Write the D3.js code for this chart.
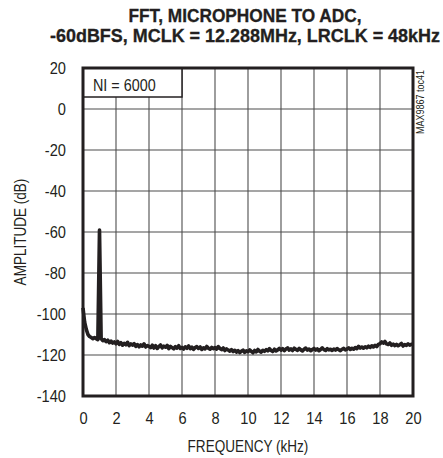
<!DOCTYPE html>
<html>
<head>
<meta charset="utf-8">
<script src="https://cdn.jsdelivr.net/npm/d3@7"></script>
<style>
  body { margin: 0; background: #fff; }
  svg { display: block; }
  text { fill: #231f20; font-family: "Liberation Sans", Arial, sans-serif; }
</style>
</head>
<body>
<svg width="443" height="458"></svg>
<script>
const width = 443, height = 458;
const svg = d3.select("svg");

// Chart data
const titleLines = ["FFT, MICROPHONE TO ADC,", "-60dBFS, MCLK = 12.288MHz, LRCLK = 48kHz"];
const xTicks = [0, 2, 4, 6, 8, 10, 12, 14, 16, 18, 20];
const yTicks = [20, 0, -20, -40, -60, -80, -100, -120, -140];
const binWidth = 0.1; // kHz between FFT points
// amplitude in dB, one value per 0.1kHz from 0 to 20kHz
const amplitude = [
    -97, -104, -107.5, -110, -111, -111.5, -112, -111.5, -112, -112.5,
    -59, -112, -113, -112.5, -113.5, -112.8, -114, -113.2, -114.2, -113.6,
    -114.5, -113.4, -114.8, -114, -115.2, -114.3, -115, -113.8, -115.4, -114.6,
    -115.2, -114.5, -115.8, -114.9, -116, -115.1, -115.7, -114.6, -116.1, -115.4,
    -115.8, -116.4, -115.2, -116.6, -115.5, -116.8, -115.9, -115.1, -116.5, -115.7,
    -116.2, -115.3, -116.9, -115.8, -116.4, -117, -115.9, -116.6, -115.5, -116.8,
    -116.3, -117.1, -116, -116.7, -115.6, -116.9, -116.2, -117.2, -116.4, -115.9,
    -116.8, -116.1, -117.3, -116.5, -117, -115.8, -116.7, -117.2, -116.3, -116.9,
    -116.4, -117.1, -115.9, -116.8, -117.4, -116.6, -117.8, -117, -117.6, -118.1,
    -117.4, -118.3, -117.7, -118.6, -117.9, -118.8, -118.2, -117.6, -118.7, -118,
    -118.4, -117.5, -118.2, -118.9, -117.8, -118.5, -117.3, -118.1, -118.6, -117.7,
    -118.2, -117.4, -118, -116.9, -117.8, -118.3, -117.2, -118, -117.5, -116.8,
    -117.6, -116.9, -117.9, -117.1, -116.5, -117.6, -117, -117.8, -116.7, -117.3,
    -117.7, -116.8, -117.5, -118, -117.2, -116.6, -117.6, -117.1, -117.9, -117.3,
    -116.8, -117.6, -117, -117.9, -117.3, -116.5, -117.4, -117.8, -116.9, -117.5,
    -117.2, -117.8, -117.1, -117.6, -116.9, -117.4, -117.9, -117.2, -116.8, -117.5,
    -117.1, -116.5, -117.3, -116.7, -117.2, -116.4, -116.9, -115.8, -116.6, -116.1,
    -116.7, -116, -116.5, -115.7, -116.3, -115.5, -116.1, -115.3, -115.9, -114.8,
    -114.5, -113.6, -114.2, -113.4, -114.6, -114.9, -114.1, -115.3, -114.7, -115.4,
    -114.8, -115.5, -115, -114.4, -115.6, -114.9, -115.3, -114.6, -115.2, -114.8,
    -115
];
const noteLabel = "NI = 6000";
const sideLabel = "MAX9867 toc41";

const plot = { left: 83, right: 413, top: 68, bottom: 396 };
const ink = "#231f20";

const xScale = d3.scaleLinear().domain([0, 20]).range([plot.left, plot.right]);
const yScale = d3.scaleLinear().domain([-140, 20]).range([plot.bottom, plot.top]);

// Squeeze text horizontally to mimic the condensed face of the original
function condense(sel, factor) {
    sel.each(function () {
        const w = this.getComputedTextLength();
        d3.select(this).attr("textLength", w * factor).attr("lengthAdjust", "spacingAndGlyphs");
    });
}

// Title: heavy condensed face in the original, fitted to its widths
const titleWidths = [233, 390];
svg.append("g").selectAll("text")
    .data(titleLines)
    .enter().append("text")
    .attr("x", 245)
    .attr("y", (d, i) => 22 + i * 20)
    .attr("text-anchor", "middle")
    .attr("textLength", (d, i) => titleWidths[i])
    .attr("lengthAdjust", "spacingAndGlyphs")
    .style("font-size", "18px").style("font-weight", "bold")
    .style("stroke", ink).style("stroke-width", 0.3)
    .text(d => d);

// Grid lines
const grid = svg.append("g").attr("stroke", "#4d4d4d").attr("stroke-width", 1.1);
grid.selectAll(".vgrid")
    .data(xTicks.slice(1, -1))
    .enter().append("line")
    .attr("x1", d => xScale(d)).attr("x2", d => xScale(d))
    .attr("y1", plot.top).attr("y2", plot.bottom);
grid.selectAll(".hgrid")
    .data(yTicks.slice(1, -1))
    .enter().append("line")
    .attr("x1", plot.left).attr("x2", plot.right)
    .attr("y1", d => yScale(d)).attr("y2", d => yScale(d));

// NI box
svg.append("rect")
    .attr("x", plot.left).attr("y", plot.top)
    .attr("width", 99).attr("height", 29)
    .attr("fill", "#fff").attr("stroke", ink).attr("stroke-width", 1.5);
svg.append("text")
    .attr("x", 93).attr("y", 91)
    .style("font-size", "16.5px")
    .text(noteLabel)
    .call(condense, 0.87);

// FFT trace
const line = d3.line()
    .x((d, i) => xScale(i * binWidth))
    .y(d => yScale(d));
svg.append("path")
    .datum(amplitude)
    .attr("d", line)
    .attr("fill", "none")
    .attr("stroke", ink)
    .attr("stroke-width", 3.6)
    .attr("stroke-linejoin", "round");

// Plot border
svg.append("rect")
    .attr("x", plot.left).attr("y", plot.top)
    .attr("width", plot.right - plot.left).attr("height", plot.bottom - plot.top)
    .attr("fill", "none").attr("stroke", ink).attr("stroke-width", 3);

// Axes (labels only, no tick marks)
const xAxis = svg.append("g")
    .attr("transform", `translate(0,${plot.bottom})`)
    .call(d3.axisBottom(xScale).tickValues(xTicks).tickFormat(d => String(d)).tickSize(0).tickPadding(16));
xAxis.select(".domain").remove();
xAxis.selectAll(".tick text")
    .attr("fill", ink).attr("font-family", null).attr("font-size", null)
    .style("font-size", "17px")
    .call(condense, 0.86);

const yAxis = svg.append("g")
    .attr("transform", `translate(${plot.left},0)`)
    .call(d3.axisLeft(yScale).tickValues(yTicks).tickFormat(d => String(d)).tickSize(0).tickPadding(17));
yAxis.select(".domain").remove();
yAxis.selectAll(".tick text")
    .attr("fill", ink).attr("font-family", null).attr("font-size", null)
    .style("font-size", "17px")
    .call(condense, 0.86);

// Axis titles
svg.append("text")
    .attr("x", (plot.left + plot.right) / 2)
    .attr("y", 452)
    .attr("text-anchor", "middle")
    .style("font-size", "16.5px")
    .text("FREQUENCY (kHz)")
    .call(condense, 0.82);

svg.append("text")
    .attr("transform", `translate(26,${(plot.top + plot.bottom) / 2}) rotate(-90)`)
    .attr("text-anchor", "middle")
    .style("font-size", "16.5px")
    .text("AMPLITUDE (dB)")
    .call(condense, 0.82);

// Side annotation
svg.append("text")
    .attr("transform", "translate(424,102) rotate(-90)")
    .attr("text-anchor", "middle")
    .style("font-size", "11px")
    .text(sideLabel)
    .call(condense, 0.82);
</script>
</body>
</html>
